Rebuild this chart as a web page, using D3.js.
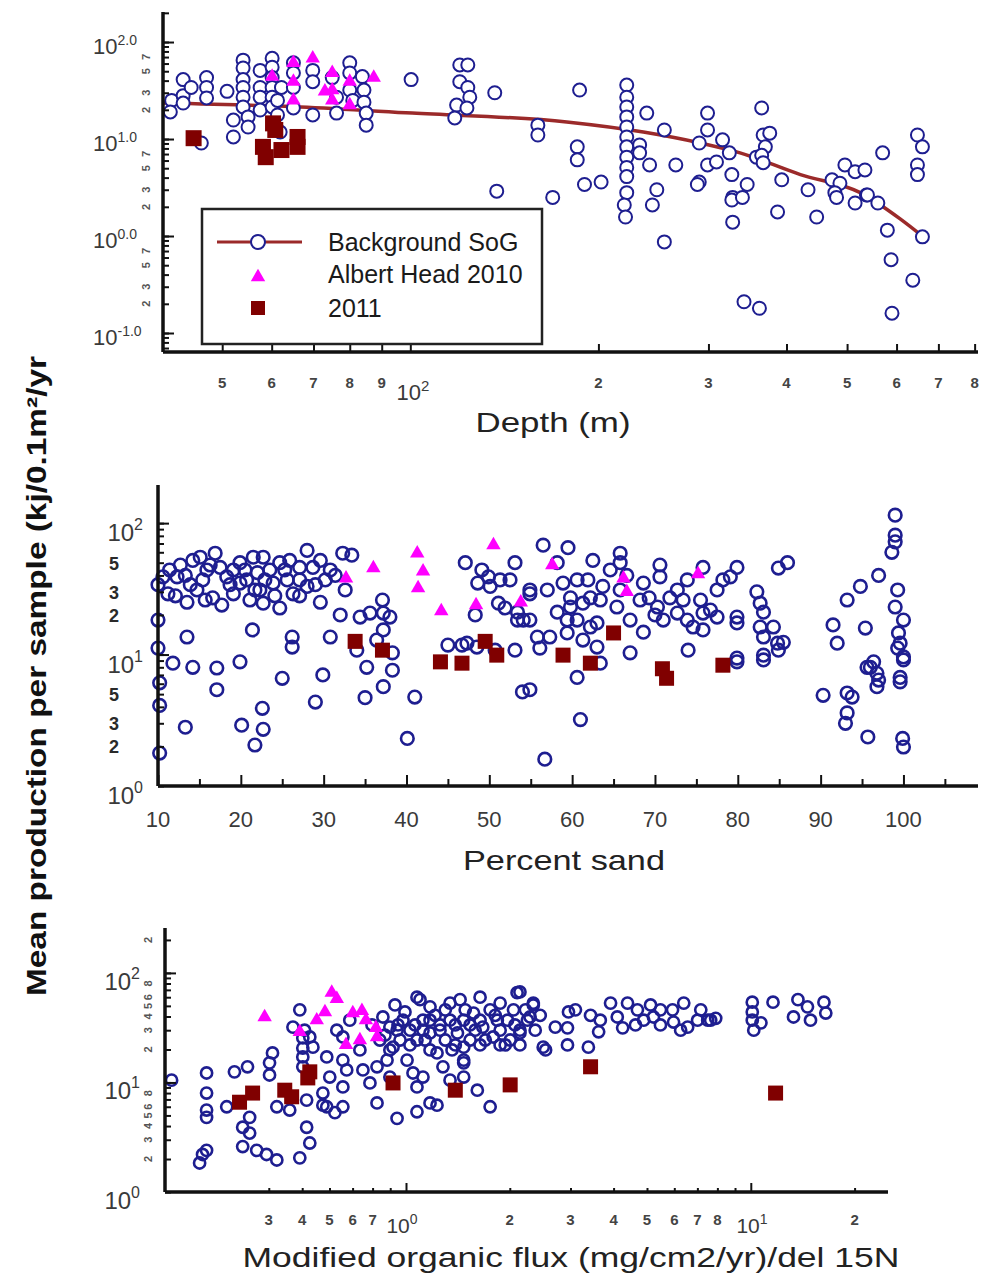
<!DOCTYPE html>
<html lang="en">
<head>
<meta charset="UTF-8">
<title>Mean production per sample</title>
<script src="https://cdn.jsdelivr.net/npm/d3@7"></script>
<style>
	body { margin: 0; background: #fff; }
	svg { display: block; font-family: "Liberation Sans", Arial, sans-serif; }
</style>
</head>
<body>
<svg id="chart" width="982" height="1276"></svg>
<script>
// ---- data ----
// panel 1: depth (m) vs production
var depthBackground = [[41.5,25],[41.3,19],[43.3,41],[43.3,28],[43.3,23.5],[44.6,34],[47.2,43],[47.2,34],[47.2,26.5],[50.9,31],[52.1,15.7],[52.1,10.5],[54,65],[54,54],[54,41],[54,34],[54,27],[54,21.4],[55,16.9],[55,13.3],[57.5,51],[57.5,34],[57.5,27],[57.5,19.9],[60.1,68],[60.1,55],[60.1,43],[60.1,34],[60.1,27],[60.1,21.4],[62.2,34],[61.3,25],[61.3,17.7],[61.9,11.8],[65,61],[65,48],[65,34],[65,20.9],[69.8,51],[69.8,39],[69.8,17.7],[75,43],[76.2,27],[76.2,18.5],[80,61],[80,48],[80,32],[80.9,25],[83.8,44],[84.3,32],[84.3,24],[85,18.5],[85,13.9],[100.3,41],[120,58],[123.6,58],[120,39],[123.6,34],[124.5,27],[118.6,22.4],[123.2,20.9],[117.8,16.5],[136.5,30],[160,13.9],[160,11],[137.5,2.9],[169,2.5],[46.3,9.1],
	[186.6,32],[222,36],[222,27],[222,21.4],[222,16.9],[222,13.3],[222,10.5],[222,8.3],[222,6.5],[222,5.1],[222,4.1],[222,2.8],[232.8,8.7],[232.8,7.2],[239,18.5],[241.5,5.4],[255,12.4],[266,5.4],[299,18.5],[299,12.4],[290,9.1],[316,9.8],[299,5.4],[309,5.8],[324,7.2],[327,4.3],[290,3.6],[346,3.4],[365,20.9],[367,11],[376,11.5],[370,8.3],[358,6.5],[365,6.8],[367,5.7],[393,3.8],[433,3.0],[473,3.8],[487,3.5],[496,5.4],[515,4.6],[534,4.8],[570,7.2],[648,11],[660,8.3],[648,5.4],[648,4.3],[190,3.4],[202,3.6],[185,8.3],[185,6.1],[248,3.0],[537,2.65],[478,2.8],[328,2.5],
	[220,2.09],[221,1.57],[244,2.09],[255,0.87],[288,3.4],[327,2.35],[340,2.5],[328,1.39],[387,1.77],[447,1.57],[481,2.5],[515,2.19],[539,2.65],[560,2.19],[580,1.15],[660,0.98],[588,0.57],[637,0.35],[590,0.16],[342,0.21],[362,0.18]];
var depthAlbert = [[60.1,44],[65,61],[65,39],[65,25],[69.8,68],[75,48],[73,31],[75,32],[75,25],[80,39],[80,22.4],[87.4,43]];
var depth2011 = [[45,10.2],[60.3,14.5],[60.8,12.4],[58.1,8.3],[58.7,6.5],[62.2,7.7],[66,10.5],[66,8.3]];
var fitDepth = [40.2,66.7,100.7,178,236,291,337,421,525,608,662];
var fitValue = [23.5,21.4,18.5,15,11.8,9.1,7.2,4.3,2.8,1.5,0.98];

// panel 2: percent sand vs production
var sandBackground = [[10,34],[10,18.3],[10,11.2],[10.6,39],[11.4,44],[11.2,29],[12.3,39],[12.7,48],[13.5,25],[13.5,13.6],[14.2,52],[14.7,31],[15.1,55],[15.9,44],[16.6,27],[16.9,59],[17.7,23.8],[17.5,46],[18.3,39],[19.1,44],[19.1,29],[19.9,50],[19.9,35],[20.7,37],[21.4,15.4],[21.5,55],[22,42],[22.3,31],[22.7,55],[22.7,24.6],[23.5,44],[23.9,35],[24.7,50],[24.7,22.6],[25.6,37],[25.9,52],[26.2,13.6],[26.2,11.4],[26.3,29],[27.1,46],[28,62],[28,33],[28.7,46],[29.6,25],[30.8,44],[30.8,13.6],[32,20],[32.3,59],[33.4,57],[34.4,19.3],[35.6,20.7],[37.1,26],[37.2,20.7],[38,19.3],[37.2,15.4],[36.4,12.9],[34,10.8],[38.3,10.3],[45,11.8],[46.7,11.8],[47.3,12.2],[48.5,11.4],[50.7,10.8],[53.1,10.8],[56.1,11.2],[47.1,50],[53.1,50],[49.1,44],[48.6,35],[49.9,39],[51.3,37],[52.5,37],[50.1,33],[51.1,24.6],[51.9,22.6],[53.4,21],[54.1,18.3],[53.4,18.3],[48.3,20],[54.9,29],[56.5,68],[57,31],
	[13.3,40],[15.4,37],[16.3,48],[20.5,44],[22.9,37],[24.1,28],[27.1,37],[29,34],[30.2,37],[21.1,26],[15.7,26],[31.4,40],
	[12.1,28],[13.9,34],[18.7,34],[21.7,31],[25.3,44],[29.6,52],[27.1,28],[32.6,31],
	[11.8,8.6],[14.2,8.0],[17.1,7.9],[19.9,8.8],[10.2,6.1],[17.1,5.4],[10.2,4.1],[13.3,2.8],[10.2,1.78],[20.1,2.9],[21.7,2.05],[22.6,3.9],[22.7,2.7],[25,6.6],[29,4.35],[29.9,7.0],[35,4.7],[35.2,8.0],[37.2,5.7],[38.3,7.6],[40.1,2.3],[41,4.75],[54,5.2],[56.7,1.6],
	[59.5,65],[62.5,52],[65.8,59],[65.8,50],[54.9,31],[58.2,50],[58.9,35],[60.6,37],[61.9,37],[59.8,27],[58.2,21],[59.8,23],[61.3,24.6],[59.4,18.3],[60.6,18.3],[62.2,16.2],[63,17.4],[57.3,13.6],[59.4,14.6],[61.3,12.9],[63,11.4],[63.7,33],[64.6,44],[65.4,23],[67,18.3],[68.6,14.8],[67,10.3],[70.6,48],[70.6,39],[68.6,35],[69.3,27],[70.3,23],[71.8,27],[72.7,31],[73.4,26],[71,18.3],[72.7,20.7],[73.9,18.3],[74.6,16.2],[75.8,15.4],[73.9,37],[75.8,46],[77.5,31],[78.2,37],[79.9,46],[79.1,39],[76.7,21.8],[77.5,19.3],[75.8,20.7],[79.9,19.3],[79.9,17.4],[74,10.8],[79.9,9.4],[82.3,30],[82.7,24.6],[83.1,21],[82.7,16.2],[83.1,13.6],[84.3,16.2],[84.8,12.2],[85.5,12.4],[84.9,10.8],[83.1,9.9],[84.9,45.5],[86,50],[91.5,16.8],[92,12.2],[93.2,26],[94.8,33],[95.4,15.9],[97,40],[99,115],[99,81],[99,72],[98.6,60],[99.3,31],[99,23],[100,18.3],[99.4,14.6],[99.6,12.2],[99.3,11.2],[100,9.6],[96.4,8.8],[95.6,8.0],[99.6,6.7],[54.9,18.3],[55.8,13.6],
	[63.4,26],[68.2,26],[65.8,31],[70,20],[75.5,26],[62.2,27],[66.6,40],
	[60.6,6.7],[61,3.2],[54.9,5.4],[63.4,8.6],[79.9,8.8],[83.1,9.1],[96,8.0],[97,6.4],[96.8,5.7],[99.6,6.2],[90.3,4.9],[93.2,5.1],[93.8,4.75],[93.2,3.6],[93,3.0],[95.7,2.36],[99.9,2.3],[100,1.98],[96.8,7.2],[100,9.1]];
var sandAlbert = [[32.7,38],[36,45.5],[41.3,59],[42,43],[41.4,32],[44.2,21.4],[48.4,23.8],[50.5,68],[53.8,25],[57.6,48],[66.2,38],[66.6,30],[75.2,41]];
var sand2011 = [[33.8,12.6],[37.1,10.8],[44.1,8.8],[46.7,8.6],[49.5,12.6],[50.9,9.9],[58.9,9.9],[62.2,8.6],[65,14.6],[70.9,7.8],[71.4,6.6],[78.2,8.3]];

// panel 3: modified organic flux vs production
var fluxBackground = [[0.209,10.5],[0.264,12.2],[0.264,8.0],[0.264,5.6],[0.318,12.5],[0.347,13.9],[0.402,15.1],[0.402,11.7],[0.41,18.6],[0.492,46],[0.47,32],[0.502,25.5],[0.502,20.6],[0.502,17.1],[0.502,13.9],[0.526,26],[0.537,21],[0.589,17.1],[0.63,30],[0.656,26],[0.687,37],[0.656,16],[0.673,13],[0.601,11.2],[0.656,9.1],[0.574,8.0],[0.589,6.0],[0.735,19.8],[0.75,13],[0.824,13.9],[0.786,9.9],[0.881,16],[0.917,21],[1.007,16],[1.076,60],[1.048,12.2],[1.12,37],[1.174,49],[1.174,28.3],[1.23,18.6],[1.28,13.9],[1.342,53],[1.342,37],[1.41,28.3],[1.47,37],[1.47,21],[1.47,15.1],[1.57,43],[1.64,60],[1.67,32],[1.754,46],[1.79,26],[1.84,37],[1.875,53],[1.97,37],[2.05,46],[2.1,66],[2.14,30],[2.29,39.6],[2.34,53],[2.5,21],[0.857,39.6],[0.898,32],[0.942,30],[0.98,37],[1.027,30],[1.076,24.4],[1.12,30],[1.47,16],[1.076,9.1],[1.174,6.5],[1.12,11.2],[1.342,10.5],[1.47,11.2],[0.898,11.2],[0.824,6.5],[0.656,6.0],[0.515,6.9],[1.61,8.5],[1.754,6.0],
	[0.961,24.4],[1.255,30],[1.534,24.4],[1.875,30],[1.39,22],[0.869,27],[2.005,24.4],[1.64,22],[1.174,19.8],[1.3,46],[0.508,30],
	[0.929,51],[0.993,44],[1.062,33.5],[1.136,24.4],[1.214,41],[1.3,24.4],[1.39,33.5],[1.485,46],[1.587,30],[1.698,24.4],[1.814,41],[1.94,22],[2.07,33.5],[2.22,46],[2.37,30],[2.45,41],[0.84,24.4],[0.797,33.5],[0.898,19.8],[1.027,22],[1.255,33.5],[1.534,33.5],[1.64,37],[1.875,22],[2.14,22],[1.36,19.8],[1.174,37],[1.435,57],[1.098,57],[0.948,33.5],
	[0.264,4.8],[0.302,6.0],[0.352,4.8],[0.336,3.9],[0.352,3.45],[0.336,2.6],[0.369,2.4],[0.394,2.2],[0.422,1.96],[0.257,2.2],[0.252,1.84],[0.264,2.4],[0.492,2.05],[0.526,2.8],[0.515,3.9],[0.422,6.0],[0.46,5.6],[0.574,6.2],[0.622,5.3],[0.942,4.7],[1.076,5.4],[1.23,6.2],
	[2.14,67],[2.34,51],[2.25,37],[2.14,28.3],[2.54,19.8],[2.71,32],[2.94,31.5],[2.96,44],[2.94,22],[3.38,21],[3.43,41],[3.62,29],[3.66,37],[3.92,53],[4.1,39.6],[4.25,31.5],[4.39,53],[4.69,46],[4.89,37],[5.12,51],[5.22,39.6],[5.47,46],[5.93,46],[5.97,35.6],[6.39,53],[6.56,32],[6.26,30],[7.01,37],[7.5,37],[7.65,37],[10.1,54],[10.1,44],[10.1,37],[10.2,30],[10.7,35],[11.6,54],[13.7,57],[13.3,39.6],[14.6,49],[14.9,37],[16.3,54],[16.5,43],
	[3.1,46],[4.63,33.5],[7.16,46],[7.91,38.5],[5.47,33.5]];
var fluxAlbert = [[0.389,39.6],[0.492,29],[0.551,37],[0.582,44],[0.609,66],[0.63,58],[0.701,43],[0.745,45],[0.765,37],[0.818,31.5],[0.67,22],[0.735,24.4],[0.824,26]];
var flux2011 = [[0.329,6.6],[0.359,8.0],[0.445,8.5],[0.466,7.4],[0.526,12.5],[0.519,11],[0.917,9.9],[1.39,8.5],[2.005,9.5],[3.43,13.9],[11.8,8.0]];

// tick labels
var depthTickValues = [50,60,70,80,90,200,300,400,500,600,700,800];
var depthTickLabels = ["5","6","7","8","9","2","3","4","5","6","7","8"];
var sandTickValues = [10,20,30,40,50,60,70,80,90,100];
var fluxTickValues = [0.4,0.5,0.6,0.7,0.8,0.9,2,3,4,5,6,7,8,9,20];
var fluxTickLabels = ["3","4","5","6","7","","2","3","4","5","6","7","8","","2"];
var legendNames = ["Background SoG","Albert Head 2010","2011"];

// ---- drawing ----
var navy = "#1e1e90", pink = "#ff00ff", maroon = "#800000", fitColor = "#9b2a2a";
var labelGray = "#3a3a3a";
var svg = d3.select("#chart");
svg.append("rect").attr("width", 982).attr("height", 1276).attr("fill", "#fff");

var triangle = d3.symbol().type(d3.symbolTriangle).size(90);

// ticks only (labels drawn separately), pointing inside the plot
function ticks(g, axis, len) {
	g.call(axis.tickSizeInner(-len).tickSizeOuter(0).tickFormat(""));
	g.select(".domain").remove();
	g.selectAll(".tick line").attr("stroke", "#111").attr("stroke-width", 2);
}

function powLabel(g, x, y, sup, o) {
	var t = g.append("text").attr("x", x).attr("y", y)
		.attr("text-anchor", o.anchor || "start")
		.attr("fill", labelGray).style("font-size", o.size + "px");
	t.append("tspan").text("10");
	t.append("tspan").attr("dy", -o.rise).style("font-size", o.supSize + "px").text(sup);
}

function frame(g, x, y) {
	g.append("line").attr("x1", x.range()[0]).attr("x2", x.range()[1])
		.attr("y1", y.range()[0]).attr("y2", y.range()[0])
		.attr("stroke", "#111").attr("stroke-width", 3.5);
	g.append("line").attr("x1", x.range()[0]).attr("x2", x.range()[0])
		.attr("y1", y.range()[0]).attr("y2", y.range()[1])
		.attr("stroke", "#111").attr("stroke-width", 3.5);
}

function points(g, data, x, y, r, fill, sw) {
	g.append("g").selectAll("circle").data(data).enter().append("circle")
		.attr("cx", function(d) { return x(d[0]); })
		.attr("cy", function(d) { return y(d[1]); })
		.attr("r", r).attr("fill", fill).attr("stroke", navy).attr("stroke-width", sw);
}
function triangles(g, data, x, y) {
	g.append("g").selectAll("path").data(data).enter().append("path")
		.attr("d", triangle)
		.attr("transform", function(d) { return "translate(" + x(d[0]) + "," + y(d[1]) + ")"; })
		.attr("fill", pink);
}
function squares(g, data, x, y, s) {
	g.append("g").selectAll("rect").data(data).enter().append("rect")
		.attr("x", function(d) { return x(d[0]) - s / 2; })
		.attr("y", function(d) { return y(d[1]) - s / 2; })
		.attr("width", s).attr("height", s).attr("fill", maroon);
}

// ===== panel 1 : depth =====
var x1 = d3.scaleLog().domain([40.2, 810]).range([163, 978]);
var y1 = d3.scaleLog().domain([0.0637, 204]).range([352, 12]);
var p1 = svg.append("g");

p1.append("path").datum(d3.zip(fitDepth, fitValue))
	.attr("d", d3.line().x(function(d) { return x1(d[0]); }).y(function(d) { return y1(d[1]); }).curve(d3.curveMonotoneX))
	.attr("fill", "none").attr("stroke", fitColor).attr("stroke-width", 3.5);
points(p1, depthBackground, x1, y1, 6.5, "#fff", 2);
triangles(p1, depthAlbert, x1, y1);
squares(p1, depth2011, x1, y1, 16);

ticks(p1.append("g").attr("transform", "translate(163,0)"), d3.axisLeft(y1).tickValues(y1.ticks()), 6);
ticks(p1.append("g").attr("transform", "translate(163,0)"), d3.axisLeft(y1).tickValues([0.1, 1, 10, 100]), 11);
ticks(p1.append("g").attr("transform", "translate(0,352)"), d3.axisBottom(x1).tickValues(depthTickValues.concat([100])), 8);
frame(p1, x1, y1);

[[100, "2.0"], [10, "1.0"], [1, "0.0"], [0.1, "-1.0"]].forEach(function(d) {
	powLabel(p1, 93, y1(d[0]) + 12, d[1], { size: 22, supSize: 14, rise: 9 });
});
[0.2, 0.3, 0.5, 0.7, 2, 3, 5, 7, 20, 30, 50, 70].forEach(function(v) {
	p1.append("text").attr("transform", "translate(150," + y1(v) + ") rotate(-90)")
		.attr("text-anchor", "middle").attr("fill", "#555")
		.style("font-size", "11px").style("font-weight", "bold").text(String(v).replace("0.", "").replace("0", ""));
});
depthTickValues.forEach(function(v, i) {
	p1.append("text").attr("x", x1(v)).attr("y", 388).attr("text-anchor", "middle")
		.attr("fill", "#444").style("font-size", "15px").style("font-weight", "bold").text(depthTickLabels[i]);
});
powLabel(p1, 413, 400, "2", { anchor: "middle", size: 22, supSize: 15, rise: 9 });
p1.append("text").attr("x", 553).attr("y", 432).attr("text-anchor", "middle")
	.attr("textLength", 155).attr("lengthAdjust", "spacingAndGlyphs")
	.attr("fill", "#222").style("font-size", "28px").text("Depth  (m)");

// legend
var lg = p1.append("g");
lg.append("rect").attr("x", 202).attr("y", 209).attr("width", 340).attr("height", 135)
	.attr("fill", "#fff").attr("stroke", "#222").attr("stroke-width", 2.5);
lg.append("line").attr("x1", 217).attr("x2", 302).attr("y1", 242).attr("y2", 242)
	.attr("stroke", fitColor).attr("stroke-width", 3);
lg.append("circle").attr("cx", 258).attr("cy", 242).attr("r", 7)
	.attr("fill", "#fff").attr("stroke", navy).attr("stroke-width", 2);
lg.append("path").attr("d", triangle).attr("transform", "translate(258,277)").attr("fill", pink);
lg.append("rect").attr("x", 251).attr("y", 301).attr("width", 14).attr("height", 14).attr("fill", maroon);
legendNames.forEach(function(n, i) {
	lg.append("text").attr("x", 328).attr("y", [251, 283, 317][i])
		.attr("fill", "#1a1a1a").style("font-size", "25px").text(n);
});

// ===== panel 2 : percent sand =====
var x2 = d3.scaleLinear().domain([10, 109]).range([158, 978]);
var y2 = d3.scaleLog().domain([1, 195]).range([786, 485]);
var p2 = svg.append("g");

points(p2, sandBackground, x2, y2, 6.3, "none", 2.6);
triangles(p2, sandAlbert, x2, y2);
squares(p2, sand2011, x2, y2, 15);

ticks(p2.append("g").attr("transform", "translate(158,0)"), d3.axisLeft(y2).tickValues(y2.ticks()), 6);
ticks(p2.append("g").attr("transform", "translate(158,0)"), d3.axisLeft(y2).tickValues([10, 100]), 11);
ticks(p2.append("g").attr("transform", "translate(0,786)"), d3.axisBottom(x2).tickValues(d3.range(15, 109, 10)), 7);
ticks(p2.append("g").attr("transform", "translate(0,786)"), d3.axisBottom(x2).tickValues(sandTickValues), 11);
frame(p2, x2, y2);

[[100, "2"], [10, "1"], [1, "0"]].forEach(function(d) {
	powLabel(p2, 143, y2(d[0]) + 18, d[1], { anchor: "end", size: 24, supSize: 16, rise: 11 });
});
[50, 30, 20, 5, 3, 2].forEach(function(v) {
	p2.append("text").attr("x", 114).attr("y", y2(v) + 7).attr("text-anchor", "middle")
		.attr("fill", "#2a2a2a").style("font-size", "18px").style("font-weight", "bold")
		.text(String(v).charAt(0));
});
sandTickValues.forEach(function(v) {
	p2.append("text").attr("x", x2(v)).attr("y", 827).attr("text-anchor", "middle")
		.attr("fill", labelGray).style("font-size", "22px").text(v);
});
p2.append("text").attr("x", 564).attr("y", 870).attr("text-anchor", "middle")
	.attr("textLength", 202).attr("lengthAdjust", "spacingAndGlyphs")
	.attr("fill", "#222").style("font-size", "28px").text("Percent sand");

// ===== panel 3 : organic flux =====
var x3 = d3.scaleLog().domain([0.2, 25]).range([165, 888]);
var y3 = d3.scaleLog().domain([1, 257]).range([1192, 928]);
var p3 = svg.append("g");

points(p3, fluxBackground, x3, y3, 5.6, "none", 2.6);
triangles(p3, fluxAlbert, x3, y3);
squares(p3, flux2011, x3, y3, 15);

ticks(p3.append("g").attr("transform", "translate(165,0)"), d3.axisLeft(y3).tickValues(y3.ticks()), 6);
ticks(p3.append("g").attr("transform", "translate(165,0)"), d3.axisLeft(y3).tickValues([10, 100]), 11);
ticks(p3.append("g").attr("transform", "translate(0,1193)"), d3.axisBottom(x3).tickValues(fluxTickValues), 5);
ticks(p3.append("g").attr("transform", "translate(0,1193)"), d3.axisBottom(x3).tickValues([1, 10]), 10);
frame(p3, x3, y3);

[[100, "2"], [10, "1"], [1, "0"]].forEach(function(d) {
	powLabel(p3, 140, y3(d[0]) + 17, d[1], { anchor: "end", size: 24, supSize: 16, rise: 11 });
});
[200, 80, 60, 50, 40, 30, 20, 8, 6, 5, 4, 3, 2].forEach(function(v) {
	p3.append("text").attr("transform", "translate(152," + y3(v) + ") rotate(-90)")
		.attr("text-anchor", "middle").attr("fill", "#555")
		.style("font-size", "11px").style("font-weight", "bold").text(String(v).charAt(0));
});
fluxTickValues.forEach(function(v, i) {
	p3.append("text").attr("x", x3(v)).attr("y", 1225).attr("text-anchor", "middle")
		.attr("fill", "#444").style("font-size", "15px").style("font-weight", "bold").text(fluxTickLabels[i]);
});
powLabel(p3, 402, 1233, "0", { anchor: "middle", size: 21, supSize: 14, rise: 9 });
powLabel(p3, 752, 1233, "1", { anchor: "middle", size: 21, supSize: 14, rise: 9 });
p3.append("text").attr("x", 571).attr("y", 1267).attr("text-anchor", "middle")
	.attr("textLength", 657).attr("lengthAdjust", "spacingAndGlyphs")
	.attr("fill", "#222").style("font-size", "28px").text("Modified organic flux (mg/cm2/yr)/del  15N");

// shared y title
svg.append("text").attr("transform", "translate(46,676) rotate(-90)")
	.attr("text-anchor", "middle").attr("textLength", 640).attr("lengthAdjust", "spacingAndGlyphs")
	.attr("fill", "#111").style("font-size", "27px").style("font-weight", "bold")
	.text("Mean production per sample (kj/0.1m²/yr");
</script>
</body>
</html>
